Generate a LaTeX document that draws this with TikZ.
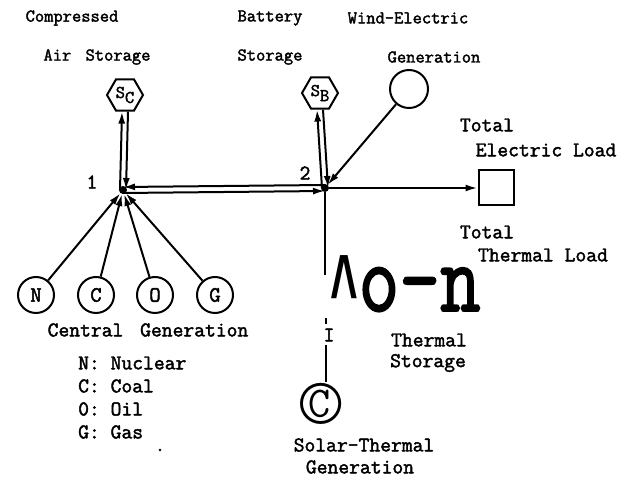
\documentclass[tikz,border=0pt]{standalone}
\usepackage{fontspec}
\setmonofont{Latin Modern Mono}[AutoFakeBold=2]
\newfontfamily\caretfont{Liberation Mono}
\usetikzlibrary{shapes.geometric, arrows.meta, positioning}

\begin{document}
\begin{tikzpicture}[x=1pt,y=1pt,
  lbl/.style={font=\fontsize{18}{20}\selectfont\ttfamily\bfseries, inner sep=0pt},
  lblb/.style={font=\fontsize{21}{23}\selectfont\ttfamily\bfseries, inner sep=0pt},
  src/.style={circle, draw, line width=2pt, minimum size=36pt, inner sep=0pt,
    font=\fontsize{22}{22}\selectfont\ttfamily\bfseries},
  store/.style={regular polygon, regular polygon sides=6, draw, line width=2pt,
    minimum size=36pt, inner sep=0pt, font=\fontsize{18}{18}\selectfont\ttfamily\bfseries},
  bus/.style={circle, fill, inner sep=0pt, minimum size=8pt},
  link/.style={line width=2pt},
  flow/.style={link, -{Latex[length=12pt,width=7pt]}}]
  \path[use as bounding box] (0,0) rectangle (624,479);

  % top labels
  \node[lbl] (capA) at (72,461) {Compressed};
  \node[lbl] (capB) at (97,422) {Air\hspace{5pt} Storage};
  \node[lbl] (batA) at (270,461) {Battery};
  \node[lbl] (batB) at (270,422) {Storage};
  \node[lbl] (windA) at (408,461) {Wind-Electric};
  \node[lbl] (windB) at (434,422) {Generation};

  % storage, wind, buses
  \node[store] (sc) at (125,384) {S\raisebox{-5pt}{C}};
  \node[store] (sb) at (320,386) {S\raisebox{-5pt}{B}};
  \node[circle, draw, line width=2pt, minimum size=38pt] (wind) at (409,390) {};
  \node[bus] (n1) at (123,289) {};
  \node[bus] (n2) at (325,291) {};
  \node[lblb] (l1) at (92,297) {1};
  \node[lblb] (l2) at (305,306) {2};

  % load
  \node[draw, line width=2pt, minimum size=35pt, inner sep=0pt] (load) at (496,291) {};
  \node[lblb] (elA) at (487,354) {Total};
  \node[lblb] (elB) at (546,329) {Electric Load};
  \node[lblb] (thA) at (487,247) {Total};
  \node[lblb] (thB) at (543,224) {Thermal Load};

  % double links
  \draw[flow] ([xshift=-3pt]n1.center) -- ([xshift=-3pt]sc.south);
  \draw[flow] ([xshift=3pt]sc.south) -- ([xshift=3pt]n1.center);
  \draw[flow] ([xshift=-3pt]n2.center) -- ([xshift=-3pt]sb.south);
  \draw[flow] ([xshift=3pt]sb.south) -- ([xshift=3pt]n2.center);
  \draw[flow] ([yshift=3pt]n2.center) -- ([yshift=3pt]n1.center);
  \draw[flow] ([yshift=-3pt]n1.center) -- ([yshift=-3pt]n2.center);
  \draw[flow] (wind) -- (n2);
  \draw[flow] (n2) -- (load);

  % central generation
  \node[src] (gN) at (36,184) {N};
  \node[src] (gC) at (96,184) {C};
  \node[src] (gO) at (155,184) {O};
  \node[src] (gG) at (215,184) {G};
  \foreach \g in {gN,gC,gO,gG}
    \draw[flow] (\g) -- (n1);
  \node[lblb] (cen) at (148,149) {Central\hspace{6pt} Generation};
  \node[lblb, anchor=west] (kN) at (78,116) {N: Nuclear};
  \node[lblb, anchor=west] (kC) at (78,93) {C: Coal};
  \node[lblb, anchor=west] (kO) at (78,70) {0: Oil};
  \node[lblb, anchor=west] (kG) at (78,47) {G: Gas};
  \node[lbl] (dot) at (160,29) {.};

  % thermal storage and solar
  \coordinate (tsEnd) at (325,204);
  \draw[link] (n2) -- (tsEnd);
  \node[inner sep=0pt, anchor=base west, yscale=1.25, transform shape,
    text height=36pt, text depth=0pt, font=\fontsize{79}{79}\selectfont\ttfamily\bfseries]
    (ts) at (330,168) {\raisebox{-10pt}{\scalebox{0.6}[1]{\caretfont\bfseries\textasciicircum}}o-n};
  \draw[link] (326,155) -- (326,161);
  \node[lblb] (tI) at (329,144) {I};
  \node[lblb] (tsA) at (429,139) {Thermal};
  \node[lblb] (tsB) at (428,116) {Storage};
  \node[inner sep=0pt, font=\fontsize{80}{80}\selectfont\ttfamily] (sol) at (321,75) {\textcopyright};
  \coordinate (solTop) at (326,134);
  \draw[link] (solTop) -- (326,97);
  \node[lblb] (solA) at (364,34) {Solar-Thermal};
  \node[lblb] (solB) at (360,12) {Generation};
\end{tikzpicture}
\end{document}
